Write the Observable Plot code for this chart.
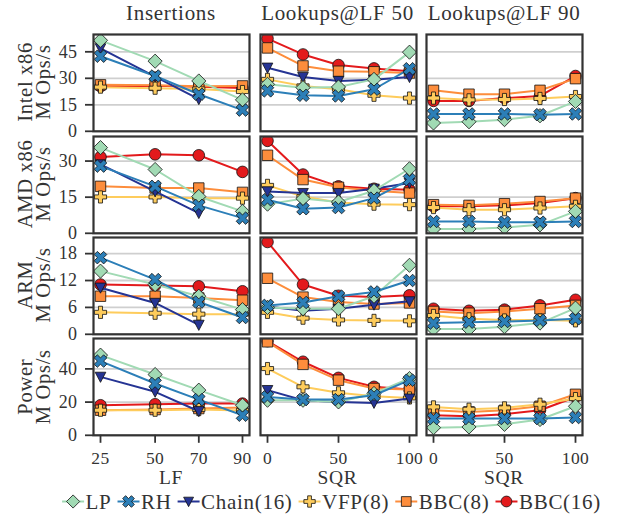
<!DOCTYPE html>
<html><head><meta charset="utf-8">
<script src="https://cdn.jsdelivr.net/npm/d3@7"></script>
<script src="https://cdn.jsdelivr.net/npm/@observablehq/plot@0.6"></script>
<style>
body{margin:0;background:#fff}
#chart{position:relative;width:621px;height:518px;overflow:hidden;background:#fff}
#chart svg{position:absolute}
#chart svg, #chart svg text{font-family:'Liberation Serif','DejaVu Serif',serif !important}
</style>
</head><body><div id="chart"></div>
<script>
// ---------- data ----------
const lfValues = [25, 50, 70, 90];
const sqrValues = [0, 25, 50, 75, 100];
const seriesNames = ["LP", "RH", "Chain(16)", "VFP(8)", "BBC(8)", "BBC(16)"];
const seriesColors = ["#a1dab4", "#2c7fb8", "#253494", "#fecc5c", "#fd8d3c", "#e31a1c"];
const platformNames = ["Intel x86", "AMD x86", "ARM", "Power"];
const panelTitles = ["Insertions", "Lookups@LF 50", "Lookups@LF 90"];
const xAxisLabels = ["LF", "SQR", "SQR"];
const yTickValues = [[0, 15, 30, 45], [0, 15, 30], [0, 6, 12, 18], [0, 20, 40]];
const yMaxValues = [54.8, 40.2, 21.6, 58.3];

// rows of each panel follow seriesNames order: LP, RH, Chain(16), VFP(8), BBC(8), BBC(16)
const intelInsertions = [
  [51.5, 39.7, 28.5, 17.8], [42.5, 31.3, 21, 12], [47, 31, 18.2, null],
  [25, 24.4, 24, 22.5], [26.3, 26, 25.5, 25.7], [25.5, 25.8, 25.2, 24.5]];
const intelLookups50 = [
  [26.6, 24.7, 25.1, 29.4, 44.8], [22.9, 20.4, 20, 23.8, 35.4], [36, 30.7, 28.5, 29.2, 30.7],
  [29.4, 25.7, 23.8, 20.4, 18.8], [47.2, 37, 34, 33.7, 33], [52.5, 43.5, 37.5, 35.6, 34]];
const intelLookups90 = [
  [4.7, 5.4, 6.6, 8.8, 16.9], [9.8, 9.8, 9.8, 9.4, 9.8], [],
  [18.8, 17.8, 18, 18.6, 19.7], [23.2, 21, 21, 23.2, 29.8], [17.2, 17.2, 18.8, 20, 31.3]];

const amdInsertions = [
  [35.6, 26.5, 15.3, 9.1], [27.9, 19.5, 11.6, 6.3], [28.6, 17.4, 8.4, null],
  [15.1, 15.1, 14.6, 14.6], [19.5, 18.8, 18.8, 17], [31.7, 32.8, 32.4, 25.5]];
const amdLookups50 = [
  [12.1, 14.4, 13, 17.7, 26.8], [13.9, 10.2, 10.7, 14.6, 22.3], [17.4, 16.7, 16.7, 18.5, 20.9],
  [19.9, 15.3, 12.8, 12.1, 11.9], [32.4, 22.3, 19.1, 17.7, 16.7], [38.4, 24.4, 19.5, 18.5, 18.1]];
const amdLookups90 = [
  [1.8, 1.8, 2.4, 3.5, 9.1], [4.9, 4.9, 4.6, 4.6, 4.9], [],
  [10.7, 9.8, 9.8, 10.5, 11.2], [11.9, 11.6, 12.3, 13.2, 14.6], [11.2, 11.2, 11.6, 12.6, 14.6]];

const armInsertions = [
  [14.1, 11.1, 8.5, 5.5], [17.1, 12.2, 7.2, 3.75], [10.4, 7, 2.1, null],
  [4.9, 4.7, 4.5, 4.5], [8.5, 8.5, 8.1, 7.6], [11.1, 10.9, 10.7, 9.6]];
const armLookups50 = [
  [6, 5.7, 5.7, 8.5, 15.4], [6.45, 7.1, 8.5, 9.45, 12], [6.2, 5.25, 5.7, 6.6, 7.35],
  [4.9, 3.6, 3.2, 3.1, 3], [12.5, 8.3, 7.2, 6.75, 7], [20.6, 11.1, 8.6, 8.3, 8.7]];
const armLookups90 = [
  [1.2, 1.2, 1.7, 2.5, 5.85], [2.5, 2.7, 2.85, 3.1, 3.45], [],
  [4.2, 3.45, 3.2, 3.2, 3], [5.1, 4.7, 5.1, 5.7, 6.45], [5.7, 5.25, 5.5, 6.45, 7.7]];

const powerInsertions = [
  [48.3, 36.6, 27.2, 18.1], [44.7, 31.2, 21.5, 12.1], [35.2, 26.2, 14.5, null],
  [15.1, 15.1, 15.5, 15], [15.1, 15.5, 16.1, 16.7], [18.1, 18.7, 19.1, 19.1]];
const powerLookups50 = [
  [21.1, 21.1, 20.1, 25.2, 34.2], [23.1, 21.5, 21.5, 24.1, 33.2], [27.2, 21.1, 20.1, 19.5, 22.1],
  [40.2, 29.2, 25.6, 23.5, 22.5], [56.3, 42.7, 33.2, 28.2, 27.6], [56.7, 44.3, 34.6, 29.2, 27.6]];
const powerLookups90 = [
  [4.6, 5, 6.6, 9.5, 17.5], [10.1, 10.1, 10.1, 10.1, 10.7], [],
  [17.1, 15.7, 16.5, 18.7, 22.1], [15.1, 14.1, 15.1, 17.5, 24.7], [12.1, 11.5, 12.7, 15.1, 23.1]];

const panelData = [
  [intelInsertions, intelLookups50, intelLookups90],
  [amdInsertions, amdLookups50, amdLookups90],
  [armInsertions, armLookups50, armLookups90],
  [powerInsertions, powerLookups50, powerLookups90]];

// ---------- symbols ----------
function polySymbol(fn) {
  return {draw(ctx, size) {
    const r = Math.sqrt(size / Math.PI);
    const pts = fn(r);
    ctx.moveTo(pts[0][0], pts[0][1]);
    for (let i = 1; i < pts.length; i++) ctx.lineTo(pts[i][0], pts[i][1]);
    ctx.closePath();
  }};
}
const plusUnit = [[-1,-3],[1,-3],[1,-1],[3,-1],[3,1],[1,1],[1,3],[-1,3],[-1,1],[-3,1],[-3,-1],[-1,-1]];
const symDiamond = polySymbol(r => [[0,-1.22*r],[1.22*r,0],[0,1.22*r],[-1.22*r,0]]);
const symX = polySymbol(r => { const s = 2.3*r/6, c = Math.SQRT1_2; return plusUnit.map(([a,b]) => [(a-b)*c*s, (a+b)*c*s]); });
const symTri = polySymbol(r => [[-0.92*r,-0.8*r],[0.92*r,-0.8*r],[0,0.95*r]]);
const symPlus = polySymbol(r => { const s = 2.1*r/6; return plusUnit.map(([a,b]) => [a*s, b*s]); });
const symSquare = polySymbol(r => { const h = 0.9*r; return [[-h,-h],[h,-h],[h,h],[-h,h]]; });
const seriesSymbols = [symDiamond, symX, symTri, symPlus, symSquare, "circle"];
const drawOrder = [5, 4, 3, 2, 0, 1];

// ---------- layout ----------
const colLeft = [93, 259.5, 426], colW = 156;
const rowTop = [33.5, 135.5, 236.5, 338.3], rowH = 96.8;
const ml = 60, mr = 12, mt = 12, mb = 50;
const FONT = "'Liberation Serif','DejaVu Serif',serif";
const TXT = "#333";
const chart = document.getElementById("chart");

for (let r = 0; r < 4; r++) {
  for (let c = 0; c < 3; c++) {
    const xs = c === 0 ? lfValues : sqrValues;
    const data = panelData[r][c];
    const marks = [Plot.gridY({ticks: yTickValues[r], stroke: "#cfcfcf", strokeOpacity: 1, strokeWidth: 1.8})];
    for (const s of drawOrder) {
      const rows = (data[s] || []).map((v, i) => ({x: xs[i], y: v})).filter(d => d.y != null);
      if (!rows.length) continue;
      marks.push(Plot.line(rows, {x: "x", y: "y", stroke: seriesColors[s], strokeWidth: 2, clip: true}));
      marks.push(Plot.dot(rows, {x: "x", y: "y", symbol: seriesSymbols[s], r: 5.8, fill: seriesColors[s], fillOpacity: 1, stroke: "#111", strokeWidth: 0.8, clip: true}));
    }
    marks.push(Plot.frame({stroke: "#333", strokeWidth: 2.2}));
    if (c === 0) marks.push(Plot.axisY({ticks: yTickValues[r], tickSize: 8, tickPadding: 8, fontSize: 18, stroke: TXT, strokeWidth: 1.8, fill: TXT, label: null}));
    if (r === 3) marks.push(Plot.axisX({ticks: xs.filter(v => c === 0 || v % 50 === 0), tickSize: 8, tickPadding: 8, fontSize: 17.5, stroke: TXT, strokeWidth: 1.8, fill: TXT, label: null}));
    const xOpts = {type: "linear", domain: c === 0 ? [25, 90] : [0, 100], inset: 7};
    if (r !== 3) xOpts.axis = null;
    const yOpts = {domain: [0, yMaxValues[r]]};
    if (c !== 0) yOpts.axis = null;
    const svg = Plot.plot({
      width: ml + colW + mr, height: mt + rowH + mb,
      marginLeft: ml, marginRight: mr, marginTop: mt, marginBottom: mb,
      x: xOpts, y: yOpts, marks
    });
    svg.setAttribute("font-family", FONT);
    svg.style.position = "absolute";
    svg.style.left = (colLeft[c] - ml) + "px";
    svg.style.top = (rowTop[r] - mt) + "px";
    svg.style.background = "transparent";
    svg.style.overflow = "visible";
    svg.style.maxWidth = "none";
    svg.style.fontSize = "18px";
    svg.style.letterSpacing = "0.4px";
    chart.appendChild(svg);
  }
}

// ---------- text overlay ----------
const ov = d3.select(chart).append("svg")
  .attr("width", 621).attr("height", 518)
  .attr("font-family", FONT)
  .style("left", "0px").style("top", "0px")
  .style("fill", TXT).style("letter-spacing", "0.7px");

panelTitles.forEach((t, c) => {
  ov.append("text").attr("x", colLeft[c] + colW / 2).attr("y", 20)
    .attr("text-anchor", "middle").attr("font-size", 21).text(t);
});
xAxisLabels.forEach((t, c) => {
  ov.append("text").attr("x", colLeft[c] + colW / 2).attr("y", 484)
    .attr("text-anchor", "middle").attr("font-size", 19.5).text(t);
});
platformNames.forEach((p, r) => {
  const cy = rowTop[r] + rowH / 2;
  ov.append("text").attr("transform", `translate(32,${cy}) rotate(-90)`)
    .attr("text-anchor", "middle").attr("font-size", 20.5).text(p);
  ov.append("text").attr("transform", `translate(49.5,${cy}) rotate(-90)`)
    .attr("text-anchor", "middle").attr("font-size", 20.5).text("M Ops/s");
});

// ---------- legend ----------
const lg = ov.append("g");
let lx = 0;
const legendY = 501.5;
seriesNames.forEach((name, s) => {
  const g = lg.append("g").attr("transform", `translate(${lx},0)`);
  g.append("line").attr("x1", 0).attr("x2", 22).attr("y1", legendY).attr("y2", legendY)
    .attr("stroke", seriesColors[s]).attr("stroke-width", 2);
  const sym = seriesSymbols[s];
  const rr = 5.4;
  if (sym === "circle") {
    g.append("circle").attr("cx", 11).attr("cy", legendY).attr("r", rr)
      .attr("fill", seriesColors[s]).attr("stroke", "#111").attr("stroke-width", 0.8);
  } else {
    const p = d3.path();
    sym.draw(p, rr * rr * Math.PI);
    g.append("path").attr("d", p.toString()).attr("transform", `translate(11,${legendY})`)
      .attr("fill", seriesColors[s]).attr("stroke", "#111").attr("stroke-width", 0.8);
  }
  const t = g.append("text").attr("x", 23.5).attr("y", legendY + 7).attr("font-size", 21).text(name);
  lx += 23.5 + t.node().getComputedTextLength() + 6;
});
const total = lx - 6;
lg.attr("transform", `translate(${331.5 - total / 2},0)`);
</script>
</body></html>
